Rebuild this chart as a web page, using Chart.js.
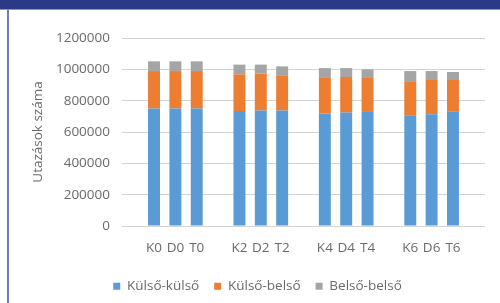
<!DOCTYPE html>
<html>
<head>
<meta charset="utf-8">
<script src="https://cdn.jsdelivr.net/npm/chart.js@4.4.0/dist/chart.umd.min.js"></script>
<style>
  html, body { margin: 0; padding: 0; background: #fff; overflow: hidden; }
  #wrap { position: relative; width: 500px; height: 303px; overflow: hidden; }
  #chart { position: absolute; left: 0; top: 0; }
  .topbar { position: absolute; left: 0; top: 0; width: 500px; height: 9px; background: #2b3a87; border-bottom: 1px solid #8d97c9; z-index: 2; }
  .leftline { position: absolute; left: 7px; top: 10px; width: 2px; height: 293px; background: #6f7cbb; z-index: 2; }
</style>
</head>
<body>
<div id="wrap">
  <div class="topbar"></div>
  <div class="leftline"></div>
  <canvas id="chart" width="500" height="303"></canvas>
</div>
<script>
// scenario groups, three bars each
const groups = [
  ['K0', 'D0', 'T0'],
  ['K2', 'D2', 'T2'],
  ['K4', 'D4', 'T4'],
  ['K6', 'D6', 'T6'],
];

// trip counts per bar, same order as groups
const kulsoKulso = [750000, 750000, 750000, 734000, 737000, 737000, 718000, 724000, 728000, 707000, 713000, 732000];
const kulsoBelso = [239000, 239000, 239000, 234000, 236000, 225000, 227000, 227000, 217000, 217000, 219000, 200000];
const belsoBelso = [62000, 62000, 62000, 62000, 57000, 57000, 63000, 57000, 55000, 65000, 57000, 51000];

const yTicks = { min: 0, max: 1200000, step: 200000 };

// empty slot before, between and after the groups
const labels = [''];
const slot = (arr) => {
  const out = [null];
  let i = 0;
  groups.forEach((g) => {
    g.forEach(() => out.push(arr[i++]));
    out.push(null);
  });
  return out;
};
groups.forEach((g) => {
  g.forEach((c) => labels.push(c));
  labels.push('');
});

const textColor = '#6a6a6a';
const gridColor = '#d3d3d3';
const font = { family: "'Open Sans', sans-serif", size: 13.5 };

new Chart(document.getElementById('chart'), {
  type: 'bar',
  data: {
    labels: labels,
    datasets: [
      { label: 'Külső-külső', data: slot(kulsoKulso), backgroundColor: '#5b9bd5' },
      { label: 'Külső-belső', data: slot(kulsoBelso), backgroundColor: '#ed7d31' },
      { label: 'Belső-belső', data: slot(belsoBelso), backgroundColor: '#a5a5a5' },
    ],
  },
  options: {
    responsive: false,
    animation: false,
    layout: { padding: { left: 30, right: 15, top: 38, bottom: 0 } },
    datasets: { bar: { barPercentage: 0.56, categoryPercentage: 1 } },
    plugins: {
      tooltip: { enabled: false },
      legend: {
        position: 'bottom',
        labels: { boxWidth: 7, boxHeight: 7, padding: 15, color: textColor, font: font },
      },
    },
    scales: {
      x: {
        stacked: true,
        grid: { display: false, drawTicks: false },
        border: { display: false },
        ticks: { color: textColor, font: font, padding: 14, autoSkip: false, maxRotation: 0 },
        afterFit: (s) => { s.height = 38.5; },
      },
      y: {
        stacked: true,
        min: yTicks.min,
        max: yTicks.max,
        grid: { color: gridColor, lineWidth: 1, drawTicks: false },
        border: { display: false },
        ticks: { stepSize: yTicks.step, color: textColor, font: font, padding: 12, callback: (v) => String(v) },
        title: { display: true, text: 'Utazások száma', color: textColor, font: font, padding: 0 },
        afterFit: (s) => { s.width = 92; },
      },
    },
  },
});
</script>
</body>
</html>
